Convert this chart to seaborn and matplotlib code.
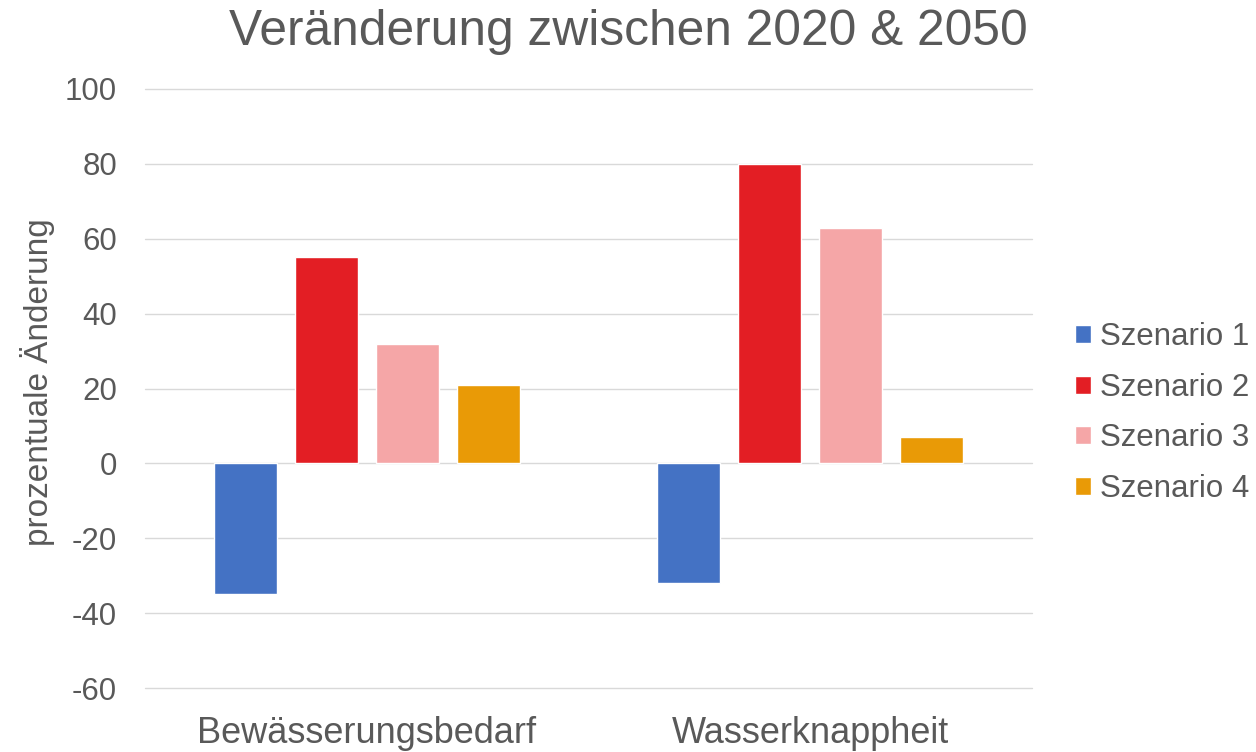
import numpy as np
import pandas as pd
import matplotlib
matplotlib.use('Agg')
import matplotlib.pyplot as plt
import seaborn as sns

# values
kategorien = ['Bewässerungsbedarf', 'Wasserknappheit']
szenarien = ['Szenario 1', 'Szenario 2', 'Szenario 3', 'Szenario 4']
szenario_1 = [-35, -32]
szenario_2 = [55, 80]
szenario_3 = [32, 63]
szenario_4 = [21, 7]
farben = ['#4472C4', '#E31E24', '#F5A6A7', '#E99A06']
y_ticks = [-60, -40, -20, 0, 20, 40, 60, 80, 100]

werte = [szenario_1, szenario_2, szenario_3, szenario_4]
df = pd.DataFrame({
    'Kategorie': kategorien * len(szenarien),
    'Szenario': [s for s in szenarien for _ in kategorien],
    'Aenderung': [v for w in werte for v in w],
})

sns.set_style('white')
plt.rcParams['font.family'] = ['Liberation Sans', 'DejaVu Sans']
grau = '#595959'

fig = plt.figure(figsize=(12.56, 7.52), dpi=100)
ax = fig.add_axes([145/1256, 1-688/752, 887/1256, 599/752])

sns.barplot(data=df, x='Kategorie', y='Aenderung', hue='Szenario',
            hue_order=szenarien, order=kategorien, palette=farben,
            width=0.73, gap=0.22, ax=ax, legend=True, saturation=1)

ax.set_ylim(-60, 100)
ax.set_yticks(y_ticks)
ax.set_yticklabels([str(t) for t in y_ticks])
ax.yaxis.grid(True, color='#D9D9D9', linewidth=1.0)
for gl in ax.get_ygridlines():
    gl.set_clip_on(False)
ax.set_axisbelow(True)
for s in ax.spines.values():
    s.set_visible(False)
ax.tick_params(axis='y', length=0, pad=20, labelsize=22.5, labelcolor=grau)
ax.tick_params(axis='x', length=0, pad=20, labelsize=26, labelcolor=grau)
ax.set_xlabel('')
ax.set_ylabel('prozentuale Änderung', fontsize=24, color=grau)
ax.yaxis.set_label_coords(-0.101, 0.51)

fig.text(0.5, 1-45/752, 'Veränderung zwischen 2020 & 2050', ha='center',
         va='baseline', fontsize=35.7, color=grau)

ax.legend(loc='center left', bbox_to_anchor=(1075/1256, 1-413/752),
          bbox_transform=fig.transFigure, frameon=False, fontsize=22.5,
          labelcolor=grau, handlelength=0.52, handleheight=0.52,
          handletextpad=0.28, labelspacing=0.66, borderpad=0, borderaxespad=0)

plt.savefig('out.png', dpi=100)
